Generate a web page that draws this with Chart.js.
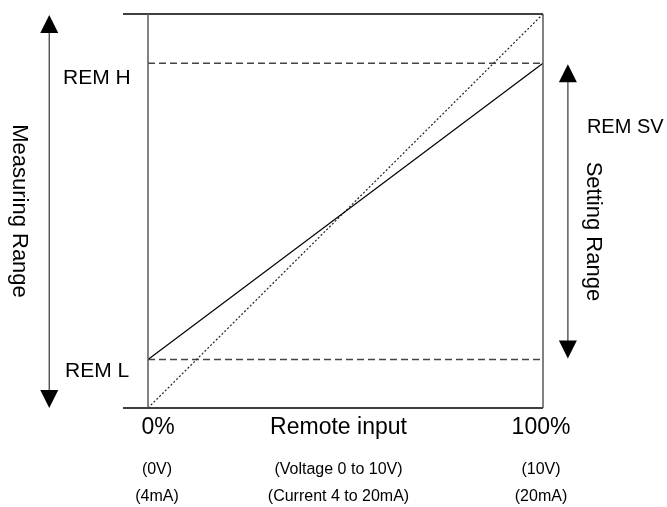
<!DOCTYPE html>
<html>
<head>
<meta charset="utf-8">
<script src="https://cdn.jsdelivr.net/npm/chart.js@4"></script>
<style>
  body { margin: 0; background: #fff; }
</style>
</head>
<body>
<canvas id="remoteChart" width="667" height="507"></canvas>
<script>
// remote input in percent
const inputPct = [0, 100];
// setting value (REM L .. REM H) as percent of measuring range
const remSetting = [12.3, 87.5];
// measuring range follows the input one to one
const measuring = [0, 100];
const remLabels = ['REM H', 'REM L'];
const remValues = [87.5, 12.3];
const xTickLabels = ['0%', 'Remote input', '100%'];
const voltLabels = ['(0V)', '(Voltage 0 to 10V)', '(10V)'];
const currentLabels = ['(4mA)', '(Current 4 to 20mA)', '(20mA)'];

const FONT = '"Liberation Sans", Arial, sans-serif';

function pts(xs, ys) {
    return xs.map((x, i) => ({ x: x, y: ys[i] }));
}

function arrowHead(ctx, x, y, dir) {
    // dir -1 = up, 1 = down
    ctx.beginPath();
    ctx.moveTo(x, y);
    ctx.lineTo(x - 9, y - dir * 18);
    ctx.lineTo(x + 9, y - dir * 18);
    ctx.closePath();
    ctx.fill();
}

const decorations = {
    id: 'decorations',
    afterDraw(chart) {
        const ctx = chart.ctx;
        const xs = chart.scales.x;
        const ys = chart.scales.y;
        const x0 = xs.getPixelForValue(0);
        const x1 = xs.getPixelForValue(100);
        const yTop = ys.getPixelForValue(100);
        const yBot = ys.getPixelForValue(0);
        const yH = ys.getPixelForValue(remValues[0]);
        const yL = ys.getPixelForValue(remValues[1]);

        ctx.save();
        // frame
        ctx.strokeStyle = '#000';
        ctx.lineWidth = 1.3;
        ctx.beginPath();
        ctx.moveTo(x0 - 25, yTop); ctx.lineTo(x1, yTop);
        ctx.moveTo(x0 - 25, yBot); ctx.lineTo(x1, yBot);
        ctx.stroke();
        ctx.strokeStyle = '#5a5a5a';
        ctx.lineWidth = 1.5;
        ctx.beginPath();
        ctx.moveTo(x0, yTop); ctx.lineTo(x0, yBot);
        ctx.moveTo(x1, yTop); ctx.lineTo(x1, yBot);
        ctx.stroke();

        // measuring range arrow
        const xa = xs.getPixelForValue(-25);
        ctx.strokeStyle = '#444';
        ctx.lineWidth = 1.3;
        ctx.beginPath();
        ctx.moveTo(xa, yTop + 15); ctx.lineTo(xa, yBot - 15);
        ctx.stroke();
        ctx.fillStyle = '#000';
        arrowHead(ctx, xa, yTop + 1, -1);
        arrowHead(ctx, xa, yBot, 1);

        // setting range arrow
        const xb = xs.getPixelForValue(106.3);
        ctx.beginPath();
        ctx.moveTo(xb, yH + 15); ctx.lineTo(xb, yL - 15);
        ctx.stroke();
        arrowHead(ctx, xb, yH + 1, -1);
        arrowHead(ctx, xb, yL - 1, 1);

        // texts
        ctx.fillStyle = '#000';
        ctx.textBaseline = 'middle';
        ctx.textAlign = 'left';
        ctx.font = '21px ' + FONT;
        ctx.fillText(remLabels[0], x0 - 85, yH + 15);
        ctx.fillText(remLabels[1], x0 - 83, yL + 12);
        ctx.font = '20px ' + FONT;
        ctx.fillText('REM SV', xb + 19, yH + 64);

        ctx.textBaseline = 'alphabetic';
        ctx.textAlign = 'center';
        ctx.font = '22px ' + FONT;
        ctx.save();
        ctx.translate(xa - 36, (yTop + yBot) / 2);
        ctx.rotate(Math.PI / 2);
        ctx.fillText('Measuring Range', 0, 0);
        ctx.restore();
        ctx.save();
        ctx.translate(xb + 19, (yH + yL) / 2 + 20);
        ctx.rotate(Math.PI / 2);
        ctx.fillText('Setting Range', 0, 0);
        ctx.restore();

        // x labels
        const labelX = [x0 + 10, (x0 + x1) / 2 - 7, x1 - 2];
        ctx.textBaseline = 'middle';
        ctx.font = '23px ' + FONT;
        xTickLabels.forEach((t, i) => ctx.fillText(t, labelX[i], yBot + 20));
        ctx.font = '16px ' + FONT;
        const smallX = [x0 + 9, (x0 + x1) / 2 - 7, x1 - 2];
        voltLabels.forEach((t, i) => ctx.fillText(t, smallX[i], yBot + 62));
        currentLabels.forEach((t, i) => ctx.fillText(t, smallX[i], yBot + 89));
        ctx.restore();
    }
};

const ctx = document.getElementById('remoteChart').getContext('2d');
const remoteChart = new Chart(ctx, {
    type: 'scatter',
    data: {
        datasets: [
            {
                label: 'REM SV',
                data: pts(inputPct, remSetting),
                showLine: true,
                borderColor: '#000',
                borderWidth: 1.3,
                pointRadius: 0
            },
            {
                label: 'Measuring',
                data: pts(inputPct, measuring),
                showLine: true,
                borderColor: '#222',
                borderWidth: 1.2,
                borderDash: [2, 2],
                pointRadius: 0
            },
            {
                label: remLabels[0],
                data: pts(inputPct, [remValues[0], remValues[0]]),
                showLine: true,
                borderColor: '#444',
                borderWidth: 1.4,
                borderDash: [7, 4],
                pointRadius: 0
            },
            {
                label: remLabels[1],
                data: pts(inputPct, [remValues[1], remValues[1]]),
                showLine: true,
                borderColor: '#444',
                borderWidth: 1.4,
                borderDash: [7, 4],
                pointRadius: 0
            }
        ]
    },
    options: {
        responsive: false,
        animation: false,
        layout: {
            padding: { left: 148, right: 124, top: 14, bottom: 99 }
        },
        plugins: {
            legend: { display: false },
            tooltip: { enabled: false }
        },
        scales: {
            x: { display: false, min: 0, max: 100 },
            y: { display: false, min: 0, max: 100 }
        }
    },
    plugins: [decorations]
});
</script>
</body>
</html>
